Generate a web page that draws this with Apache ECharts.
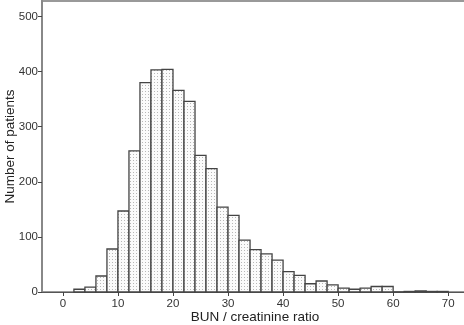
<!DOCTYPE html>
<html><head><meta charset="utf-8">
<script src="https://cdn.jsdelivr.net/npm/echarts@6/dist/echarts.min.js"></script>
<style>html,body{margin:0;padding:0;background:#fff}#c{width:464px;height:325px}</style>
</head><body><div id="c"></div>
<script>
const binWidth = 2;
const binStarts = [2,4,6,8,10,12,14,16,18,20,22,24,26,28,30,32,34,36,38,40,42,44,46,48,50,52,54,56,58,60,62,64,66,68];
const counts =    [5,9,29,78,147,256,380,403,404,366,346,248,224,154,139,94,77,69,58,37,30,15,20,13,7,5,7,10,10,0,1,2,1,1];
const xTicks = [0,10,20,30,40,50,60,70];
const yTicks = [0,100,200,300,400,500];

const pc = document.createElement('canvas');
pc.width = 3; pc.height = 3;
const g = pc.getContext('2d');
g.fillStyle = '#fbfbfb'; g.fillRect(0,0,3,3);
g.fillStyle = '#b8b8b8'; g.fillRect(1,1,1,1);

const data = binStarts.map((s,i)=>[s, s+binWidth, counts[i]]);
const chart = echarts.init(document.getElementById('c'), null, {renderer:'canvas'});
const font = 'Liberation Sans, Arial, sans-serif';
chart.setOption({
  animation:false,
  grid:{left:42, right:-4, top:1, bottom:33, show:true, borderColor:'#999', borderWidth:2, backgroundColor:'transparent',
    containLabel:false, outerBoundsMode:'none'},
  xAxis:{type:'value', min:-3.8, max:73.6,
    name:'BUN / creatinine ratio', nameLocation:'middle', nameGap:18, nameMoveOverlap:false,
    nameTextStyle:{fontFamily:font, fontSize:13.5, color:'#222'},
    axisLine:{show:true, onZero:false, lineStyle:{color:'#555', width:1}},
    axisTick:{show:true, length:4, customValues:xTicks, lineStyle:{color:'#444'}},
    axisLabel:{customValues:xTicks, fontFamily:font, fontSize:11.5, color:'#333', margin:6},
    splitLine:{show:false}},
  yAxis:{type:'value', min:0, max:528,
    name:'Number of patients', nameLocation:'middle', nameGap:25, nameRotate:90, nameMoveOverlap:false,
    nameTextStyle:{fontFamily:font, fontSize:13.5, color:'#222'},
    axisLine:{show:true, onZero:false, lineStyle:{color:'#888', width:2}},
    axisTick:{show:true, length:4, customValues:yTicks, lineStyle:{color:'#444'}},
    axisLabel:{customValues:yTicks, fontFamily:font, fontSize:11.5, color:'#333', margin:4},
    splitLine:{show:false}},
  series:[{type:'custom', data:data,
    renderItem:function(params, api){
      const p0 = api.coord([api.value(0), api.value(2)]);
      const p1 = api.coord([api.value(1), 0]);
      return {type:'rect', shape:{x:p0[0], y:p0[1], width:p1[0]-p0[0], height:p1[1]-p0[1]},
        style:{fill:{image:pc, repeat:'repeat'}, stroke:'#444', lineWidth:1.3}};
    }}]
});
</script></body></html>
